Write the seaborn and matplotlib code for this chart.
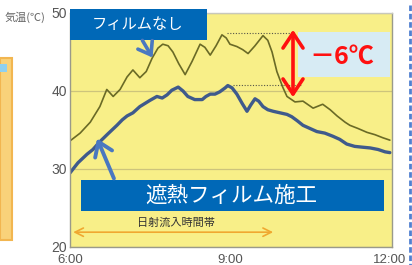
import numpy as np
import pandas as pd
import seaborn as sns
import matplotlib
matplotlib.use("Agg")
import matplotlib.pyplot as plt
from matplotlib.patches import Rectangle
from matplotlib.lines import Line2D

# ---------------- data ----------------
t_nofilm = [6.00, 6.19, 6.38, 6.56, 6.69, 6.81, 6.94, 7.07, 7.18, 7.31, 7.43, 7.54, 7.65,
            7.74, 7.84, 7.93, 8.04, 8.16, 8.29, 8.44, 8.53, 8.63, 8.74, 8.85, 8.93, 9.00,
            9.13, 9.24, 9.34, 9.47, 9.62, 9.71, 9.79, 9.88, 9.99, 10.07, 10.22, 10.37,
            10.56, 10.74, 10.88, 11.01, 11.16, 11.25, 11.40, 11.57, 11.72, 11.87, 12.00]
temp_nofilm = [33.6, 34.6, 36.0, 38.0, 40.2, 39.3, 40.2, 41.8, 42.7, 41.7, 42.5, 44.2, 45.5,
               46.0, 45.8, 45.0, 43.5, 42.1, 43.8, 46.0, 45.6, 44.6, 45.8, 47.2, 46.8, 46.0,
               45.7, 45.3, 44.8, 45.8, 47.1, 46.5, 45.0, 42.5, 40.5, 39.3, 38.6, 38.7,
               37.8, 38.3, 37.6, 36.8, 36.0, 35.6, 35.2, 34.7, 34.4, 34.0, 33.7]

t_film = [6.00, 6.15, 6.32, 6.43, 6.56, 6.71, 6.88, 6.98, 7.07, 7.18, 7.31, 7.50, 7.63,
          7.73, 7.82, 7.91, 8.03, 8.12, 8.21, 8.34, 8.48, 8.55, 8.63, 8.72, 8.81, 8.91,
          8.96, 9.04, 9.13, 9.23, 9.32, 9.39, 9.47, 9.54, 9.62, 9.71, 9.81, 9.94, 10.07,
          10.16, 10.26, 10.37, 10.50, 10.63, 10.78, 10.93, 11.06, 11.19, 11.34, 11.48,
          11.63, 11.78, 11.91, 12.00]
temp_film = [29.5, 30.8, 31.9, 32.5, 33.5, 34.5, 35.6, 36.3, 36.8, 37.2, 38.0, 38.8, 39.3,
             39.1, 39.5, 40.1, 40.5, 40.0, 39.3, 38.9, 38.9, 39.3, 39.6, 39.6, 39.9, 40.4,
             40.7, 40.4, 39.6, 38.4, 37.4, 38.2, 39.0, 38.7, 38.0, 37.6, 37.4, 37.2, 37.0,
             36.7, 36.2, 35.6, 35.2, 34.8, 34.6, 34.2, 33.8, 33.2, 32.9, 32.8,
             32.7, 32.5, 32.2, 32.1]

ref_levels = [47.4, 40.8]           # peak levels marked by dotted lines
ref_starts = [8.94, 9.06]
ref_ends = [10.12, 10.35]

y_ticks = [20, 30, 40, 50]
y_ticklabels = ["20", "30", "40", "50"]
x_ticks = [6, 9, 12]
x_ticklabels = ["6:00", "9:00", "12:00"]

label_nofilm = "フィルムなし"
label_film = "遮熱フィルム施工"
label_sun = "日射流入時間帯"
label_diff = "－6℃"
label_y = "気温(℃)"
sun_period = [6.06, 9.81]

# ---------------- figure ----------------
W, H = 412, 265


def fx(px):
    return px / W


def fy(py):
    return 1 - py / H


sns.set_theme(style="white")
plt.rcParams["font.family"] = ["Noto Sans CJK JP", "DejaVu Sans"]

fig = plt.figure(figsize=(W / 100, H / 100), dpi=100)
fig.patch.set_facecolor("white")
ax = fig.add_axes([70 / W, 18 / H, 322 / W, 234 / H])
ax.set_facecolor("#f8ef88")

df_nofilm = pd.DataFrame({"time": t_nofilm, "temp": temp_nofilm})
df_film = pd.DataFrame({"time": t_film, "temp": temp_film})

ax.grid(axis="y", color="#cdc47c", lw=0.9)
ax.grid(axis="x", visible=False)
ax.set_axisbelow(True)

sns.lineplot(data=df_nofilm, x="time", y="temp", ax=ax, color="#6a6a26", lw=1.2,
             solid_joinstyle="round", solid_capstyle="round")
sns.lineplot(data=df_film, x="time", y="temp", ax=ax, color="#3f5a8c", lw=2.4,
             solid_joinstyle="round", solid_capstyle="round")

for lvl, s, e in zip(ref_levels, ref_starts, ref_ends):
    ax.plot([s, e], [lvl, lvl], color="#555548", lw=0.8, ls=(0, (1, 1.5)))

ax.set_xlim(6, 12.04)
ax.set_ylim(20, 50)
ax.set_yticks(y_ticks)
ax.set_yticklabels(y_ticklabels)
ax.set_xticks(x_ticks)
ax.set_xticklabels(x_ticklabels)
ax.set_xlabel("")
ax.set_ylabel("")
ax.tick_params(axis="y", length=0, pad=2, labelsize=10, labelcolor="#555555")
ax.tick_params(axis="x", length=3, direction="in", color="#888877", pad=5,
               labelsize=9.5, labelcolor="#555555")
for lab in ax.get_xticklabels() + ax.get_yticklabels():
    lab.set_fontfamily("Liberation Sans")

for side in ["left", "bottom", "right"]:
    ax.spines[side].set_color("#9a9a8a")
    ax.spines[side].set_linewidth(1.0)
ax.spines["top"].set_color("#c8c8bc")
ax.spines["top"].set_linewidth(1.0)

# sun inflow period arrow
ax.annotate("", xy=(sun_period[1], 21.9), xytext=(sun_period[0], 21.9),
            arrowprops=dict(arrowstyle="<->,head_length=0.5,head_width=0.25",
                            color="#f0a830", lw=1.2, shrinkA=0, shrinkB=0))
ax.text((sun_period[0] + sun_period[1]) / 2 + 0.05, 23.1, label_sun, ha="center",
        va="center", fontsize=8, color="#333333")

# y label
fig.text(fx(5), fy(17), label_y, ha="left", va="center", fontsize=8, color="#666666")

# ---- annotation boxes (figure pixels) ----
fig.add_artist(Rectangle((fx(70), fy(40)), (207 - 70) / W, (40 - 9) / H,
                         transform=fig.transFigure, facecolor="#0068b7",
                         edgecolor="none", zorder=5))
fig.text(fx(138), fy(24.5), label_nofilm, color="white", fontsize=11,
         ha="center", va="center", zorder=6)

fig.add_artist(Rectangle((fx(81), fy(211)), (384 - 81) / W, (211 - 180) / H,
                         transform=fig.transFigure, facecolor="#0068b7",
                         edgecolor="none", zorder=5))
fig.text(fx(231), fy(196), label_film, color="white", fontsize=15.5,
         ha="center", va="center", zorder=6)

fig.add_artist(Rectangle((fx(298), fy(77)), (390 - 298) / W, (77 - 32) / H,
                         transform=fig.transFigure, facecolor="#d7ebf4",
                         edgecolor="none", zorder=5))
fig.text(fx(342), fy(57), label_diff, color="#ff1010", fontsize=18, fontweight="bold",
         ha="center", va="center", zorder=6)

# red double arrow
fig.add_artist(matplotlib.patches.FancyArrowPatch(
    (fx(293), fy(100)), (fx(293), fy(27)), transform=fig.transFigure,
    arrowstyle="<->,head_length=0.9,head_width=0.6", mutation_scale=12,
    color="#ff1010", lw=2.6, zorder=7))

# blue pointer arrows
fig.add_artist(matplotlib.patches.FancyArrowPatch(
    (fx(141), fy(38)), (fx(154), fy(60)), transform=fig.transFigure,
    arrowstyle="->,head_length=0.7,head_width=0.5", mutation_scale=12,
    color="#4a78c0", lw=2.6, zorder=7))
fig.add_artist(matplotlib.patches.FancyArrowPatch(
    (fx(115), fy(181)), (fx(96), fy(136)), transform=fig.transFigure,
    arrowstyle="->,head_length=0.8,head_width=0.55", mutation_scale=12,
    color="#4a78c0", lw=2.8, zorder=7))

# ---- decorative page fragments ----
fig.add_artist(Rectangle((fx(0), fy(240)), 12 / W, (240 - 58) / H,
                         transform=fig.transFigure, facecolor="#f9d27a",
                         edgecolor="#f2b650", lw=1.5, zorder=2))
fig.add_artist(Rectangle((fx(0), fy(72)), 7 / W, 8 / H,
                         transform=fig.transFigure, facecolor="#8fd0f0",
                         edgecolor="none", zorder=3))
fig.add_artist(Line2D([fx(410), fx(410)], [fy(5), fy(265)], transform=fig.transFigure,
                      color="#5080d0", lw=2, ls=(0, (2, 1)), zorder=2))

fig.savefig("out.png", dpi=100, facecolor="white")
